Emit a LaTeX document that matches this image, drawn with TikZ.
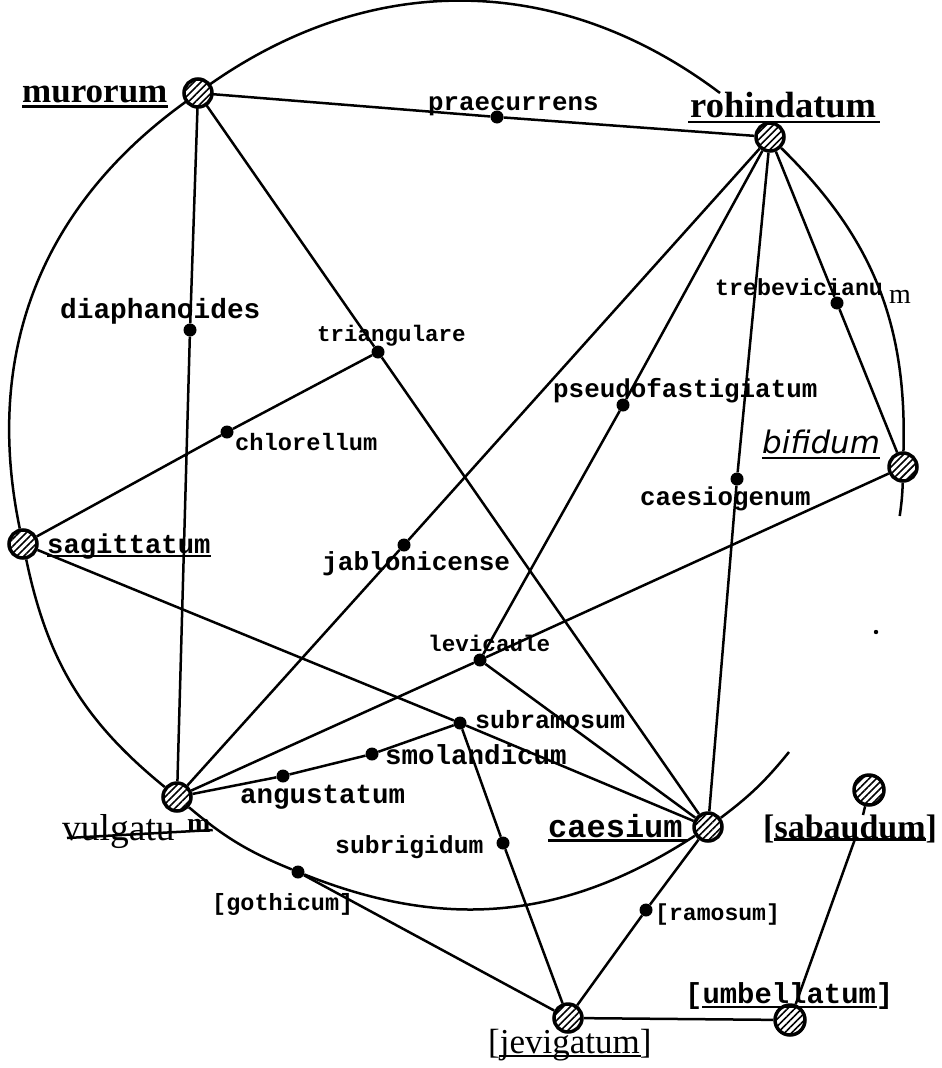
\documentclass[tikz,border=0pt]{standalone}
\usepackage{fontspec}
\newfontfamily\timesf{Liberation Serif}
\newfontfamily\dejavu{DejaVu Sans}
\newfontfamily\lettf{Liberation Mono}
\usetikzlibrary{patterns.meta,calc}
\tikzset{
  edge/.style={line width=2.5pt},
  big/.style={circle, draw, line width=3.5pt, minimum size=28pt, inner sep=0pt,
    preaction={fill=white}, pattern={Lines[angle=45,distance=5pt,line width=1.6pt]}},
  dot/.style={circle, fill, minimum size=13pt, inner sep=0pt},
  lett/.style={font=\lettf\bfseries\fontsize{#1}{#1}\selectfont, inner sep=0pt, anchor=base west},
  lett/.default=26,
  rom/.style={font=\timesf\fontsize{#1}{#1}\selectfont, inner sep=0pt, anchor=base west},
  romb/.style={font=\timesf\bfseries\fontsize{#1}{#1}\selectfont, inner sep=0pt, anchor=base west},
  ital/.style={font=\dejavu\itshape\fontsize{#1}{#1}\selectfont, inner sep=0pt, anchor=base west},
  ul/.style={line width=2.5pt},
}
\begin{document}
\begin{tikzpicture}[x=1pt,y=1pt]
\useasboundingbox (0,0) rectangle (942,-1068);
% hatched taxa
\node[big] (murorum) at (198,-93) {};
\node[big] (rohindatum) at (770,-137) {};
\node[big] (bifidum) at (903,-467) {};
\node[big] (sagittatum) at (23,-544) {};
\node[big] (vulgatum) at (177,-797) {};
\node[big] (caesium) at (708,-827) {};
\node[big, minimum size=30pt] (sabaudum) at (869,-790) {};
\node[big] (jevigatum) at (568,-1018) {};
\node[big, minimum size=30pt] (umbellatum) at (790,-1020) {};
% intermediate dots
\node[dot] (praecurrens) at (497,-117) {};
\node[dot] (diaphanoides) at (190,-330) {};
\node[dot] (triangulare) at (378,-352) {};
\node[dot] (chlorellum) at (227,-432) {};
\node[dot] (trebevicianum) at (837,-303) {};
\node[dot] (pseudofastigiatum) at (623,-405) {};
\node[dot] (caesiogenum) at (737,-479) {};
\node[dot] (jablonicense) at (404,-545) {};
\node[dot] (levicaule) at (480,-660) {};
\node[dot] (subramosum) at (460,-723) {};
\node[dot] (smolandicum) at (372,-754) {};
\node[dot] (angustatum) at (283,-776) {};
\node[dot] (subrigidum) at (503,-843) {};
\node[dot] (gothicum) at (298,-872) {};
\node[dot] (ramosum) at (646,-910) {};
% free ends
\coordinate (arcend) at (720,-93);
\coordinate (gapA) at (899.7,-516);
\coordinate (gapB) at (789,-752);
\coordinate (sabtop) at (863,-815);
\coordinate (sabbot) at (855,-839);
% big circle arcs
\draw[edge] (murorum) to[bend left=36] (arcend);
\draw[edge] (rohindatum) to[bend left=23.6] (bifidum);
\draw[edge] (bifidum) to[bend left=3] (gapA);
\draw[edge] (gapB) to[bend left=7] (caesium);
\draw[edge] (caesium) to[bend left=27.4] (gothicum);
\draw[edge] (gothicum) to[bend left=9] (vulgatum);
\draw[edge] (vulgatum) to[bend left=19.5] (sagittatum);
\draw[edge] (sagittatum) to[bend left=33] (murorum);
\fill (876,-632) circle[radius=2.2];
% straight connectors
\draw[edge] (murorum) -- (praecurrens) -- (rohindatum);
\draw[edge] (murorum) -- (diaphanoides) -- (vulgatum);
\draw[edge] (murorum) -- (triangulare) -- (caesium);
\draw[edge] (triangulare) -- (chlorellum) -- (sagittatum);
\draw[edge] (rohindatum) -- (trebevicianum) -- (bifidum);
\draw[edge] (rohindatum) -- (pseudofastigiatum) -- (levicaule);
\draw[edge] (rohindatum) -- (caesiogenum) -- (caesium);
\draw[edge] (rohindatum) -- (jablonicense) -- (vulgatum);
\draw[edge] (bifidum) -- (levicaule) -- (vulgatum);
\draw[edge] (levicaule) -- (caesium);
\draw[edge] (sagittatum) -- (subramosum) -- (caesium);
\draw[edge] (vulgatum) -- (angustatum) -- (smolandicum) -- (subramosum);
\draw[edge] (subramosum) -- (subrigidum) -- (jevigatum);
\draw[edge] (gothicum) -- (jevigatum);
\draw[edge] (caesium) -- (ramosum) -- (jevigatum);
\draw[edge] (jevigatum) -- (umbellatum);
\draw[edge] (sabaudum) -- (sabtop);
\draw[edge] (umbellatum) -- (sabbot);
% labels
\node[lett=25.8] (lprae) at (428,-110) {praecurrens};
\node[lett=27.8] (ldiaph) at (60,-318) {diaphanoides};
\node[lett=22.5] (ltri) at (317,-341) {triangulare};
\node[lett=23.7] (lchl) at (235,-450) {chlorellum};
\node[lett=23.3] (ltreb) at (715,-295) {trebevicianu};
\node[rom=28] (ltrebm) at (889,-303) {m};
\node[lett=25.9] (lpseudo) at (553,-397) {pseudofastigiatum};
\node[lett=25.8] (lcaesg) at (640,-505) {caesiogenum};
\node[ital=31] (lbif) at (762,-453) {bifidum};
\node[lett=26.1] (ljab) at (322,-570) {jablonicense};
\node[lett=22.6] (llev) at (428,-651) {levicaule};
\node[lett=25] (lsubram) at (475,-728) {subramosum};
\node[lett=27.5] (lsmol) at (385,-764) {smolandicum};
\node[lett=27.5] (lang) at (240,-803) {angustatum};
\node[lett=24.7] (lsubrig) at (335,-853) {subrigidum};
\node[lett=23.5] (lgoth) at (212,-910) {[gothicum]};
\node[lett=23.1] (lram) at (655,-920) {[ramosum]};
\node[lett=28.9] (lumb) at (685,-1003) {[umbellatum]};
\node[lett=32] (lcaes) at (548,-837) {caesium};
\node[lett=27.2] (lsag) at (47,-553) {sagittatum};
\node[romb=35] (lmur) at (22,-102) {murorum};
\node[romb=36.5] (lroh) at (690,-117) {rohindatum};
\node[rom=37.5] (lvul) at (62,-840) {vulgatu};
\node[romb=28] (lvulm) at (187,-832) {m};
\node[romb=34] (lsab) at (763,-838) {[sabaudum]};
\node[rom=35] (ljev) at (488,-1053) {[jevigatum]};
% underlines
\draw[ul] ($(lmur.base west)+(0,-4.5)$) -- ($(lmur.base east)+(0,-4.5)$);
\draw[ul] ($(lroh.base west)+(-2,-5)$) -- ($(lroh.base east)+(4,-5)$);
\draw[ul] ($(lsag.base west)+(0,-3)$) -- ($(lsag.base east)+(0,-3)$);
\draw[ul] ($(lcaes.base west)+(0,-3.5)$) -- ($(lcaes.base east)+(4,-3.5)$);
\draw[ul] ($(lbif.base west)+(0,-5)$) -- ($(lbif.base east)+(0,-5)$);
\draw[ul] ($(lumb.base west)+(17,-4)$) -- ($(lumb.base east)+(-17,-4)$);
\draw[ul] ($(lvul.base west)+(5,2)$) -- ($(lvulm.base east)+(2,2)$);
\draw[ul] ($(lsab.base west)+(11,-1.5)$) -- ($(lsab.base east)+(-11,-1.5)$);
\draw[ul] ($(ljev.base west)+(11,-3)$) -- ($(ljev.base east)+(-11,-3)$);
\end{tikzpicture}
\end{document}
